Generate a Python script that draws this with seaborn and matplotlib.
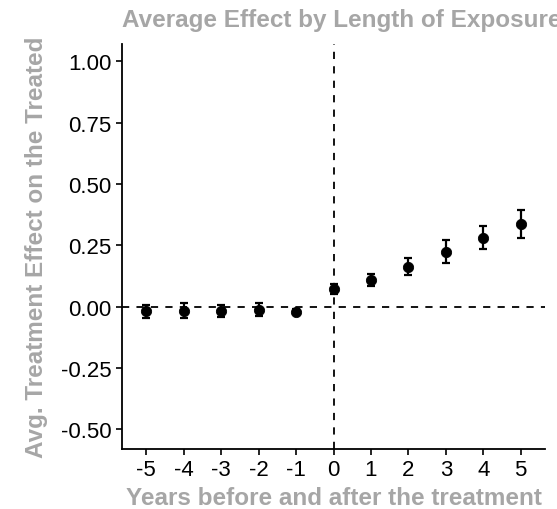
import numpy as np
import pandas as pd
import seaborn as sns
import matplotlib.pyplot as plt

# Données
years = [-5, -4, -3, -2, -1, 0, 1, 2, 3, 4, 5]
att = [-0.019, -0.016, -0.017, -0.013, -0.020, 0.072, 0.110, 0.163, 0.224, 0.281, 0.336]
se = [0.026, 0.029, 0.025, 0.027, 0.012, 0.019, 0.025, 0.036, 0.046, 0.047, 0.056]

df = pd.DataFrame({'year': years, 'att': att, 'se': se})

sns.set_theme(style='ticks')
plt.rcParams['font.family'] = ['Liberation Sans', 'DejaVu Sans']

fig = plt.figure(figsize=(5.57, 5.1), dpi=100)
ax = fig.add_axes([122 / 557, 60 / 510, 423 / 557, 405 / 510])

ax.axhline(0, color='black', linestyle=(0, (4, 4)), linewidth=1.3, zorder=1)
ax.axvline(0, color='black', linestyle=(0, (4, 4)), linewidth=1.3, zorder=1)

ax.errorbar(df['year'], df['att'], yerr=df['se'], fmt='none', ecolor='black',
            elinewidth=1.6, capsize=3, capthick=1.6, zorder=2)
sns.scatterplot(data=df, x='year', y='att', ax=ax, color='black', s=55,
                edgecolor='black', zorder=3)

ax.set_xlim(-5.65, 5.65)
ax.set_ylim(-0.58, 1.07)
ax.set_xticks(years)
ax.set_xticklabels([str(y) for y in years])
ax.set_yticks([-0.5, -0.25, 0, 0.25, 0.5, 0.75, 1.0])
ax.set_yticklabels(['-0.50', '-0.25', '0.00', '0.25', '0.50', '0.75', '1.00'])
ax.tick_params(axis='both', labelsize=16, colors='black', length=4.5, width=1.2, pad=3)

sns.despine(ax=ax)
for s in ['left', 'bottom']:
    ax.spines[s].set_linewidth(1.3)
    ax.spines[s].set_color('black')

grey = '#A6A6A6'
ax.set_xlabel('Years before and after the treatment', fontsize=17.5,
              fontweight='bold', color=grey, labelpad=4)
ax.set_ylabel('Avg. Treatment Effect on the Treated', fontsize=17.5,
              fontweight='bold', color=grey, labelpad=9)
ax.set_title('Average Effect by Length of Exposure', fontsize=17.5,
             fontweight='bold', color=grey, loc='left', pad=13)

fig.savefig('out.png', dpi=100)
